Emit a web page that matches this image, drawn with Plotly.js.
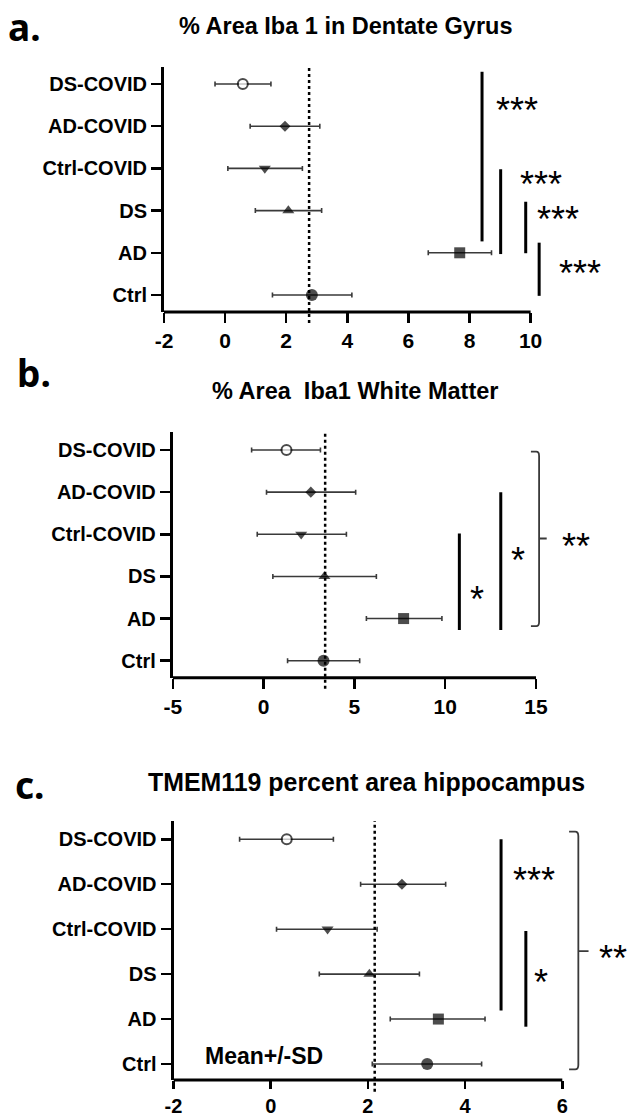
<!DOCTYPE html>
<html>
<head>
<meta charset="utf-8">
<script src="https://cdn.plot.ly/plotly-3.0.1.min.js"></script>
<style>html,body{margin:0;padding:0;background:#fff;}#chart{width:630px;height:1117px;}</style>
</head>
<body>
<div id="chart"></div>
<script>
// ---------- data ----------
const categories = ['Ctrl', 'AD', 'DS', 'Ctrl-COVID', 'AD-COVID', 'DS-COVID'];

// Panel a: % Area Iba 1 in Dentate Gyrus
const aMean = [2.84, 7.68, 2.07, 1.30, 1.96, 0.58];
const aLow  = [1.55, 6.65, 0.99, 0.09, 0.82, -0.33];
const aHigh = [4.15, 8.72, 3.16, 2.53, 3.10, 1.50];
const aRef = 2.75;
const aTicks = [-2, 0, 2, 4, 6, 8, 10];

// Panel b: % Area Iba1 White Matter
const bMean = [3.30, 7.71, 3.35, 2.07, 2.60, 1.26];
const bLow  = [1.32, 5.66, 0.51, -0.35, 0.16, -0.66];
const bHigh = [5.29, 9.82, 6.21, 4.56, 5.07, 3.13];
const bRef = 3.39;
const bTicks = [-5, 0, 5, 10, 15];

// Panel c: TMEM119 percent area hippocampus
const cMean = [3.22, 3.45, 2.03, 1.17, 2.70, 0.33];
const cLow  = [2.09, 2.46, 1.00, 0.12, 1.85, -0.64];
const cHigh = [4.34, 4.41, 3.06, 2.19, 3.60, 1.29];
const cRef = 2.14;
const cTicks = [-2, 0, 2, 4, 6];

// significance bars: x, y from, y to ; star labels: x, y, text
const aSigX = [8.41, 9.02, 9.84, 10.28];
const aSigY0 = [1.27, 0.97, 0.99, -0.02];
const aSigY1 = [5.29, 2.98, 2.21, 1.24];
const aStarX = [9.56, 10.33, 10.90, 11.61];
const aStarY = [4.54, 2.79, 1.95, 0.67];
const aStarText = ['***', '***', '***', '***'];

const bSigX = [10.78, 13.06];
const bSigY0 = [0.73, 0.73];
const bSigY1 = [3.02, 4.00];
const bStarX = [11.77, 14.03, 17.2];
const bStarY = [1.62, 2.55, 2.88];
const bStarText = ['*', '*', '**'];
const bBracket = {x: 15.17, hook: 14.72, tip: 15.59, top: 4.96, bottom: 0.82, mid: 2.90};

const cSigX = [4.74, 5.25];
const cSigY0 = [1.19, 0.83];
const cSigY1 = [5.00, 2.96];
const cStarX = [5.42, 5.56, 7.05];
const cStarY = [4.24, 1.98, 2.51];
const cStarText = ['***', '*', '**'];
const cBracket = {x: 6.33, hook: 6.14, tip: 6.54, top: 5.17, bottom: -0.12, mid: 2.51};

// ---------- styling ----------
const W = 630, H = 1117;
const px = v => v / W;           // horizontal pixel -> paper
const py = v => 1 - v / H;       // vertical pixel -> paper

const symbols = ['circle', 'square', 'triangle-up', 'triangle-down', 'diamond', 'circle'];
const msizes = [12, 11, 10.5, 10.5, 8.5, 10];
const mcolors = ['#000', '#000', '#000', '#000', '#000', '#fff'];
const mlinew = [0, 0, 0, 0, 0, 2];
const yvals = categories.map((c, i) => i);

const FONT = 'Liberation Sans, Arial, Helvetica, sans-serif';

function trace(mean, lo, hi, n) {
  return {
    type: 'scatter', mode: 'markers',
    x: mean, y: yvals,
    xaxis: 'x' + (n === 1 ? '' : n), yaxis: 'y' + (n === 1 ? '' : n),
    cliponaxis: false, hoverinfo: 'skip', showlegend: false,
    marker: {symbol: symbols, size: msizes, color: mcolors, line: {color: '#000', width: mlinew}},
    error_x: {
      type: 'data', symmetric: false,
      array: hi.map((h, i) => h - mean[i]),
      arrayminus: lo.map((l, i) => mean[i] - l),
      color: '#3a3a3a', thickness: 1.6, width: 2.5
    }
  };
}

const panels = [
  {n: 1, mean: aMean, lo: aLow, hi: aHigh, ref: aRef, ticks: aTicks, xtl: 10, xfs: 21,
   xdom: [px(164), px(625)], xr: [-2, -2 + (625 - 164) / 30.55],
   ydom: [py(312), py(67)], yr: [-0.403, 5.403],
   sigX: aSigX, sigY0: aSigY0, sigY1: aSigY1, starX: aStarX, starY: aStarY, starText: aStarText, bracket: null},
  {n: 2, mean: bMean, lo: bLow, hi: bHigh, ref: bRef, ticks: bTicks, xtl: 10, xfs: 21,
   xdom: [px(172.8), px(625)], xr: [-5, -5 + (625 - 172.8) / 18.16],
   ydom: [py(677.7), py(431.7)], yr: [-0.403, 5.434],
   sigX: bSigX, sigY0: bSigY0, sigY1: bSigY1, starX: bStarX, starY: bStarY, starText: bStarText, bracket: bBracket},
  {n: 3, mean: cMean, lo: cLow, hi: cHigh, ref: cRef, ticks: cTicks, xtl: 8, xfs: 20,
   xdom: [px(173.5), px(630)], xr: [-2, -2 + (630 - 173.5) / 48.6],
   ydom: [py(1080), py(821)], yr: [-0.356, 5.407],
   sigX: cSigX, sigY0: cSigY0, sigY1: cSigY1, starX: cStarX, starY: cStarY, starText: cStarText, bracket: cBracket}
];

const layout = {
  width: W, height: H,
  margin: {l: 0, r: 0, t: 0, b: 0},
  paper_bgcolor: '#fff', plot_bgcolor: 'rgba(0,0,0,0)',
  showlegend: false,
  shapes: [], annotations: []
};
const data = [];

panels.forEach(p => {
  const sx = p.n === 1 ? '' : String(p.n);
  const xa = 'x' + sx, ya = 'y' + sx;
  data.push(trace(p.mean, p.lo, p.hi, p.n));
  layout['xaxis' + sx] = {
    domain: p.xdom, range: p.xr, anchor: ya, fixedrange: true,
    showgrid: false, zeroline: false, showline: false,
    tickmode: 'array', tickvals: p.ticks, ticktext: p.ticks.map(String),
    ticks: 'outside', ticklen: p.xtl, tickwidth: 2.5, tickcolor: '#000',
    tickfont: {family: FONT, size: p.xfs, color: '#000', weight: 'bold'}
  };
  layout['yaxis' + sx] = {
    domain: p.ydom, range: p.yr, anchor: xa, fixedrange: true,
    showgrid: false, zeroline: false, showline: true, linewidth: 3, linecolor: '#000',
    tickmode: 'array', tickvals: yvals, ticktext: categories,
    ticks: 'outside', ticklen: 10, tickwidth: 2.5, tickcolor: '#000',
    tickfont: {family: FONT, size: 20, color: '#000', weight: 'bold'}
  };
  // x axis line only over the tick span
  layout.shapes.push({type: 'line', xref: xa, yref: ya + ' domain',
    x0: p.ticks[0], x1: p.ticks[p.ticks.length - 1], y0: 0, y1: 0,
    line: {color: '#000', width: 3}});
  // dotted reference line
  layout.shapes.push({type: 'line', xref: xa, yref: ya + ' domain',
    x0: p.ref, x1: p.ref, y0: -0.045, y1: 1,
    line: {color: '#000', width: 2.5, dash: 'dot'}});
  // significance bars
  p.sigX.forEach((x, i) => {
    layout.shapes.push({type: 'line', xref: xa, yref: ya,
      x0: x, x1: x, y0: p.sigY0[i], y1: p.sigY1[i],
      line: {color: '#000', width: 3}});
  });
  // bracket
  if (p.bracket) {
    const b = p.bracket, r = 0.1, rx = (b.x - b.hook) * 0.35;
    layout.shapes.push({type: 'path', xref: xa, yref: ya,
      path: `M${b.hook},${b.top} L${b.x - rx},${b.top} Q${b.x},${b.top} ${b.x},${b.top - r} ` +
            `L${b.x},${b.bottom + r} Q${b.x},${b.bottom} ${b.x - rx},${b.bottom} L${b.hook},${b.bottom}`,
      line: {color: '#3a3a3a', width: 1.8}});
    layout.shapes.push({type: 'line', xref: xa, yref: ya,
      x0: b.x, x1: b.tip, y0: b.mid, y1: b.mid,
      line: {color: '#3a3a3a', width: 1.8}});
  }
  // stars
  p.starX.forEach((x, i) => {
    layout.annotations.push({xref: xa, yref: ya, x: x, y: p.starY[i],
      text: p.starText[i], showarrow: false, xanchor: 'center', yanchor: 'middle', yshift: -7,
      font: {family: FONT, size: 36, color: '#000'}});
  });
});

// titles
const titles = [
  {text: '% Area Iba 1 in Dentate Gyrus', x: 345, y: 26, size: 23.5},
  {text: '% Area&nbsp;&nbsp;Iba1 White Matter', x: 355, y: 391, size: 23.5},
  {text: 'TMEM119 percent area hippocampus', x: 366, y: 782, size: 24.9}
];
titles.forEach(t => layout.annotations.push({xref: 'paper', yref: 'paper', x: px(t.x), y: py(t.y),
  text: t.text, showarrow: false, xanchor: 'center', yanchor: 'middle',
  font: {family: FONT, size: t.size, color: '#000', weight: 'bold'}}));

// panel letters
const letters = [
  {text: 'a.', x: 6, y: 26},
  {text: 'b.', x: 15, y: 373},
  {text: 'c.', x: 13, y: 784}
];
letters.forEach(t => layout.annotations.push({xref: 'paper', yref: 'paper', x: px(t.x), y: py(t.y),
  text: t.text, showarrow: false, xanchor: 'left', yanchor: 'middle',
  font: {family: 'Noto Sans, Open Sans, sans-serif', size: 37, color: '#000', weight: 'bold'}}));

// legend note in panel c
layout.annotations.push({xref: 'x3', yref: 'y3', x: -0.14, y: 0.18, text: 'Mean+/-SD',
  showarrow: false, xanchor: 'center', yanchor: 'middle',
  font: {family: FONT, size: 23, color: '#000', weight: 'bold'}});

Plotly.newPlot('chart', data, layout, {displayModeBar: false, staticPlot: true});
</script>
</body>
</html>
